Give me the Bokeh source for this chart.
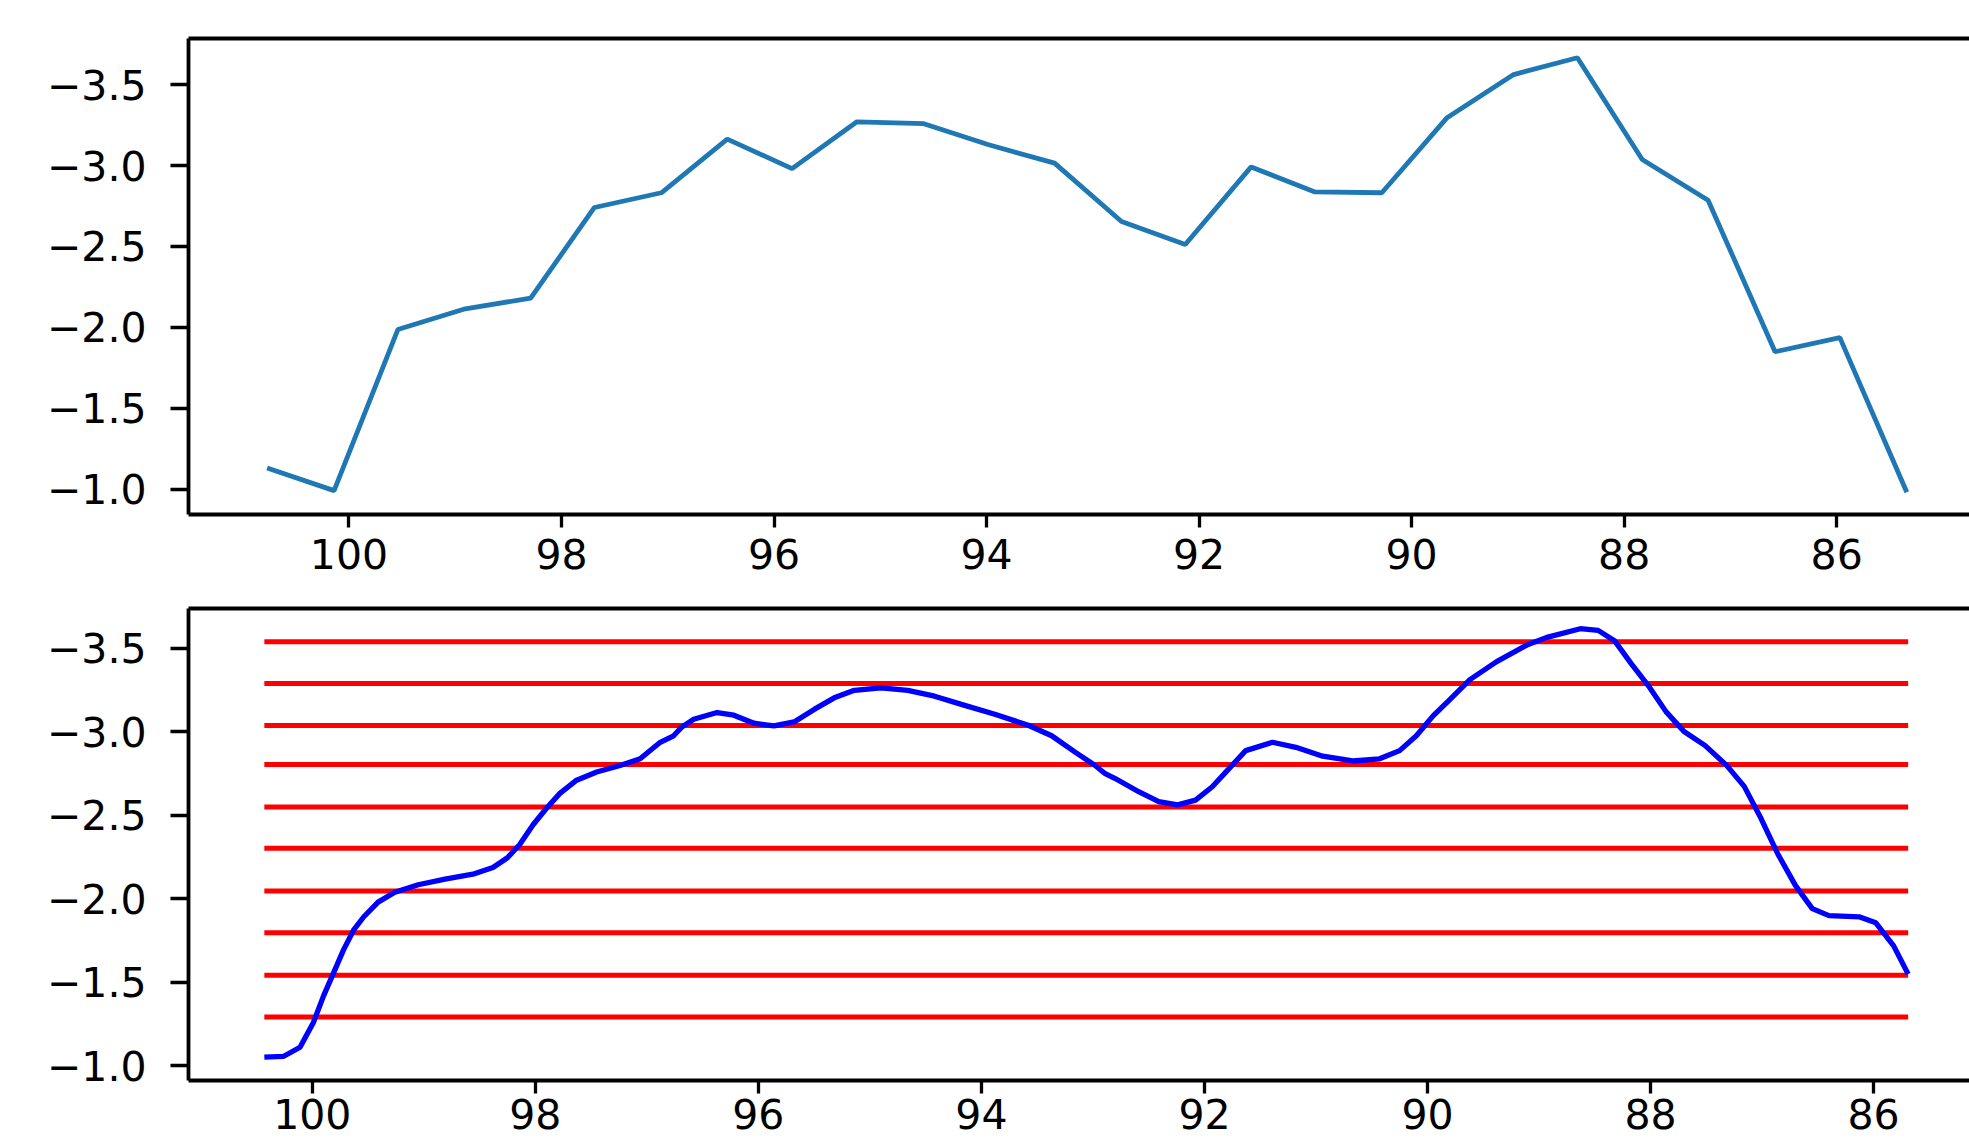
from bokeh.plotting import figure
from bokeh.layouts import column
from bokeh.models import Range1d, FixedTicker, LinearAxis, CustomJSTickFormatter
from bokeh.embed import file_html
from bokeh.resources import INLINE

# ---------------- data ----------------
# top panel: raw series (x axis runs from high to low)
top_x = [100.77, 100.14, 99.54, 98.92, 98.29, 97.69, 97.06, 96.44, 95.83, 95.22,
         94.59, 93.98, 93.36, 92.73, 92.13, 91.51, 90.91, 90.28, 89.67, 89.04,
         88.44, 87.83, 87.21, 86.58, 85.97, 85.34]
top_y = [-1.13, -0.99, -1.986, -2.112, -2.181, -2.741, -2.832, -3.164, -2.981, -3.271,
         -3.259, -3.129, -3.015, -2.654, -2.512, -2.992, -2.837, -2.832, -3.294, -3.563,
         -3.667, -3.038, -2.786, -1.849, -1.936, -0.98]

# bottom panel: smoothed series
smooth_x = [100.43, 100.26, 100.11, 99.99, 99.90, 99.81, 99.72, 99.63, 99.54, 99.41,
            99.26, 99.05, 98.81, 98.56, 98.38, 98.25, 98.14, 98.02, 97.90, 97.78,
            97.63, 97.45, 97.24, 97.06, 96.88, 96.76, 96.69, 96.58, 96.37, 96.22,
            96.04, 95.86, 95.68, 95.50, 95.32, 95.14, 94.90, 94.66, 94.42, 94.18,
            93.88, 93.58, 93.37, 93.16, 92.98, 92.89, 92.80, 92.59, 92.41, 92.24,
            92.08, 91.93, 91.78, 91.63, 91.39, 91.18, 90.94, 90.67, 90.43, 90.25,
            90.10, 89.95, 89.80, 89.62, 89.38, 89.11, 88.93, 88.63, 88.47, 88.32,
            88.17, 88.01, 87.86, 87.70, 87.51, 87.32, 87.16, 87.01, 86.86, 86.70,
            86.55, 86.40, 86.13, 85.98, 85.82, 85.69]
smooth_y = [-1.051, -1.055, -1.110, -1.258, -1.416, -1.554, -1.693, -1.811, -1.890, -1.979,
            -2.038, -2.083, -2.117, -2.146, -2.186, -2.245, -2.324, -2.442, -2.541, -2.630,
            -2.709, -2.758, -2.797, -2.837, -2.936, -2.975, -3.025, -3.074, -3.114, -3.098,
            -3.050, -3.034, -3.058, -3.133, -3.202, -3.247, -3.262, -3.247, -3.212, -3.163,
            -3.104, -3.038, -2.975, -2.877, -2.797, -2.748, -2.719, -2.640, -2.581, -2.561,
            -2.590, -2.670, -2.778, -2.886, -2.936, -2.906, -2.853, -2.824, -2.837, -2.886,
            -2.975, -3.094, -3.192, -3.311, -3.419, -3.518, -3.564, -3.616, -3.606, -3.542,
            -3.404, -3.266, -3.118, -3.001, -2.916, -2.799, -2.672, -2.481, -2.269, -2.078,
            -1.940, -1.898, -1.891, -1.855, -1.717, -1.548]

# horizontal reference levels (bottom panel)
levels = [-3.538, -3.288, -3.037, -2.803, -2.549, -2.301, -2.046, -1.796, -1.541, -1.291]

# ticks
x_ticks = [100, 98, 96, 94, 92, 90, 88, 86]
x_tick_labels = ["100", "98", "96", "94", "92", "90", "88", "86"]
y_ticks = [-3.5, -3.0, -2.5, -2.0, -1.5, -1.0]
y_tick_labels = ["\u22123.5", "\u22123.0", "\u22122.5", "\u22122.0", "\u22121.5", "\u22121.0"]

# ---------------- styling helpers ----------------
FONT = "DejaVu Sans"
FONT_SIZE = "41px"
AXIS_W = 3.8

fmt_code = """
let best = 0, bd = Infinity;
for (let i = 0; i < tv.length; i++) {
  const d = Math.abs(tv[i] - tick);
  if (d < bd) { bd = d; best = i; }
}
return tl[best];
"""


def make_fig(height, min_top, min_bottom, xr, yr, x_standoff):
    p = figure(width=1969, height=height, output_backend="svg", toolbar_location=None,
               x_range=Range1d(*xr), y_range=Range1d(*yr),
               min_border_left=188, min_border_right=0,
               min_border_top=min_top, min_border_bottom=min_bottom,
               background_fill_color="white", border_fill_color="white")
    p.outline_line_color = None
    p.grid.visible = False

    xa = p.xaxis[0]
    xa.ticker = FixedTicker(ticks=x_ticks)
    xa.formatter = CustomJSTickFormatter(args=dict(tv=x_ticks, tl=x_tick_labels), code=fmt_code)
    ya = p.yaxis[0]
    ya.ticker = FixedTicker(ticks=y_ticks)
    ya.formatter = CustomJSTickFormatter(args=dict(tv=y_ticks, tl=y_tick_labels), code=fmt_code)

    for ax in (xa, ya):
        ax.axis_line_width = AXIS_W
        ax.axis_line_color = "black"
        ax.major_tick_line_width = 3.3
        ax.major_tick_line_color = "black"
        ax.major_tick_in = 0
        ax.minor_tick_line_color = None
        ax.major_label_text_font = FONT
        ax.major_label_text_font_size = FONT_SIZE
        ax.major_label_text_color = "black"
    xa.major_tick_out = 13
    xa.major_label_standoff = x_standoff
    ya.major_tick_out = 18
    ya.major_label_standoff = 24

    # top border of the frame (the right border lies outside the picture)
    top = LinearAxis(ticker=FixedTicker(ticks=[]), axis_line_width=AXIS_W,
                     axis_line_color="black", major_tick_line_color=None,
                     minor_tick_line_color=None, major_label_text_font_size="0px")
    p.add_layout(top, "above")
    return p


p1 = make_fig(586, 38, 72, (101.51, 84.75), (-0.8425, -3.786), 11)
p1.line(top_x, top_y, line_color="#1f77b4", line_width=4.8)

p2 = make_fig(556, 22, 62, (101.11, 85.14), (-0.911, -3.737), 5)
p2.segment(x0=[smooth_x[0]] * len(levels), x1=[smooth_x[-1]] * len(levels),
           y0=levels, y1=levels, line_color="#ff0000", line_width=5)
p2.line(smooth_x, smooth_y, line_color="#0000ff", line_width=5.3)

layout = column(p1, p2, spacing=0)
open("out.html", "w").write(file_html(layout, INLINE))
